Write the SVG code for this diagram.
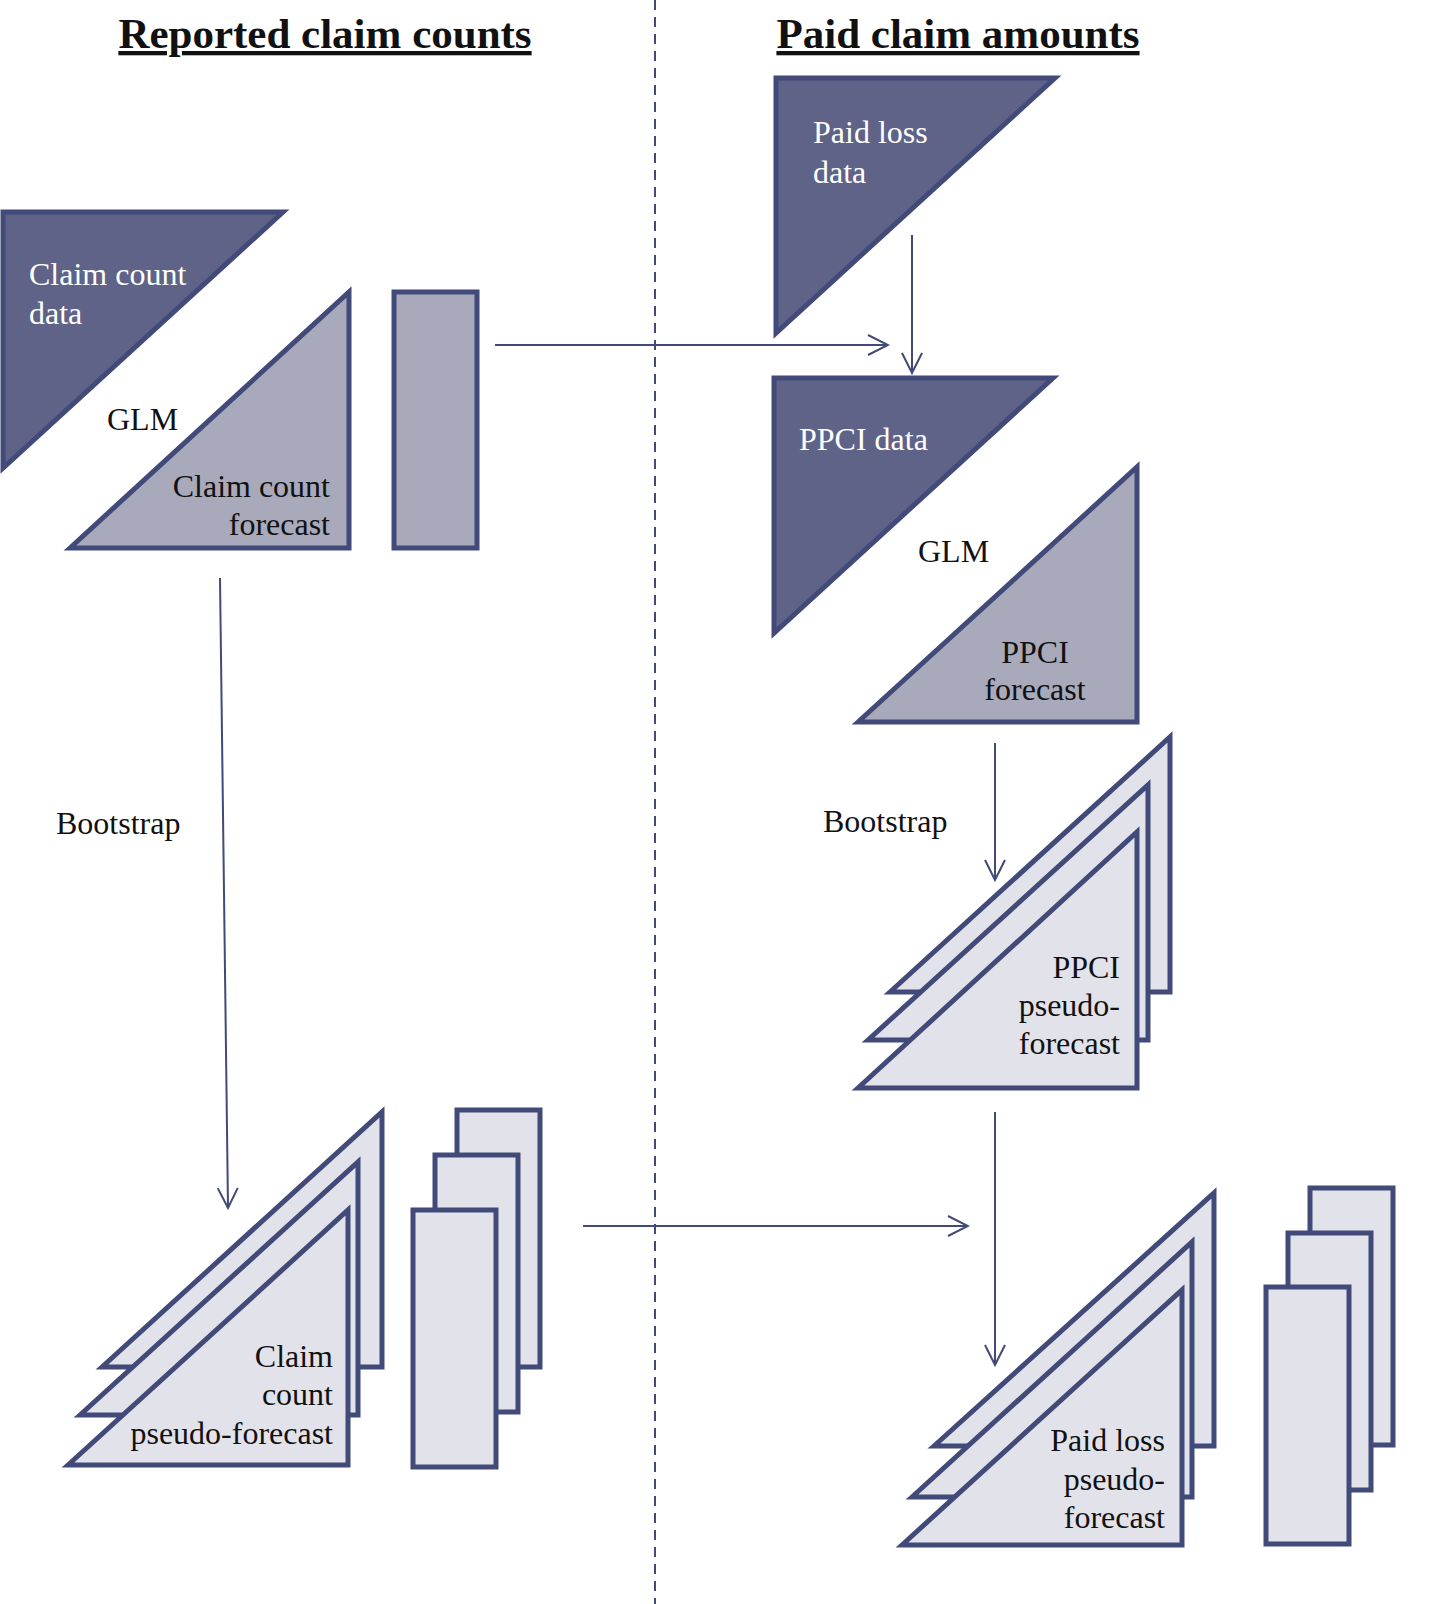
<svg xmlns="http://www.w3.org/2000/svg" width="1429" height="1604" viewBox="0 0 1429 1604">
<style>
.d{fill:#5f6387;stroke:#414a78;stroke-width:5;stroke-linejoin:miter}
.m{fill:#a8a9ba;stroke:#414a78;stroke-width:5}
.l{fill:#e2e2ea;stroke:#414a78;stroke-width:5}
text{font-family:"Liberation Serif",serif;font-size:32px;fill:#111}
.w{fill:#fff}
.r{text-anchor:end}
.c{text-anchor:middle}
.t{font-size:43px;font-weight:bold;text-decoration:underline;text-anchor:middle}
.a{stroke:#414a78;stroke-width:2;fill:none;marker-end:url(#ar)}
</style>
<defs><marker id="ar" markerWidth="24" markerHeight="24" refX="22" refY="12" orient="auto" markerUnits="userSpaceOnUse"><path d="M2,2 L22,12 L2,22" fill="none" stroke="#414a78" stroke-width="2"/></marker></defs>
<rect width="1429" height="1604" fill="#fff"/>
<text x="325" y="48" class="t">Reported claim counts</text>
<text x="958" y="48" class="t">Paid claim amounts</text>
<line x1="655" y1="0" x2="655" y2="1604" stroke="#414a78" stroke-width="2" stroke-dasharray="10,7"/>
<g id="claim-count-data"><polygon class="d" points="3,212 283,212 3,468"/><text x="29" y="285" class="w">Claim count</text><text x="29" y="324" class="w">data</text></g>
<g id="claim-count-forecast"><polygon class="m" points="70,548 349,292 349,548"/><text x="330" y="497" class="r">Claim count</text><text x="330" y="535" class="r">forecast</text></g>
<g id="glm-left"><text x="107" y="430">GLM</text></g>
<g id="cc-rect"><rect class="m" x="394" y="292" width="83" height="256"/></g>
<g id="paid-loss-data"><polygon class="d" points="776,78 1055,78 776,333"/><text x="813" y="143" class="w">Paid loss</text><text x="813" y="183" class="w">data</text></g>
<g id="ppci-data"><polygon class="d" points="774,378 1053,378 774,633"/><text x="799" y="450" class="w">PPCI data</text></g>
<g id="glm-right"><text x="918" y="562">GLM</text></g>
<g id="ppci-forecast"><polygon class="m" points="858,722 1137,467 1137,722"/><text x="1035" y="663" class="c">PPCI</text><text x="1035" y="700" class="c">forecast</text></g>
<g id="bootstrap-left"><text x="56" y="834">Bootstrap</text></g>
<g id="bootstrap-right"><text x="823" y="832">Bootstrap</text></g>
<g id="ppci-pseudo"><polygon class="l" points="890,992 1170,737 1170,992"/><polygon class="l" points="868,1040 1148,785 1148,1040"/><polygon class="l" points="858,1088 1137,832 1137,1088"/><text x="1120" y="978" class="r">PPCI</text><text x="1120" y="1016" class="r">pseudo-</text><text x="1120" y="1054" class="r">forecast</text></g>
<g id="cc-pseudo"><polygon class="l" points="102,1367 382,1112 382,1367"/><polygon class="l" points="80,1415 358,1162 358,1415"/><polygon class="l" points="68,1465 348,1210 348,1465"/><text x="333" y="1367" class="r">Claim</text><text x="333" y="1405" class="r">count</text><text x="333" y="1444" class="r">pseudo-forecast</text></g>
<g id="cc-rects"><rect class="l" x="457" y="1110" width="83" height="257"/><rect class="l" x="435" y="1155" width="83" height="257"/><rect class="l" x="413" y="1210" width="83" height="257"/></g>
<g id="pl-pseudo"><polygon class="l" points="934,1446 1214,1193 1214,1446"/><polygon class="l" points="912,1497 1192,1242 1192,1497"/><polygon class="l" points="902,1545 1182,1290 1182,1545"/><text x="1165" y="1451" class="r">Paid loss</text><text x="1165" y="1490" class="r">pseudo-</text><text x="1165" y="1528" class="r">forecast</text></g>
<g id="pl-rects"><rect class="l" x="1310" y="1188" width="83" height="257"/><rect class="l" x="1288" y="1233" width="83" height="257"/><rect class="l" x="1266" y="1287" width="83" height="257"/></g>
<g id="connectors">
<line class="a" x1="495" y1="345" x2="888" y2="345"/>
<line class="a" x1="912" y1="235" x2="912" y2="373"/>
<line class="a" x1="995" y1="743" x2="995" y2="880"/>
<line class="a" x1="995" y1="1112" x2="995" y2="1365"/>
<line class="a" x1="220" y1="578" x2="228" y2="1208"/>
<line class="a" x1="583" y1="1226" x2="968" y2="1226"/>
</g>
</svg>
